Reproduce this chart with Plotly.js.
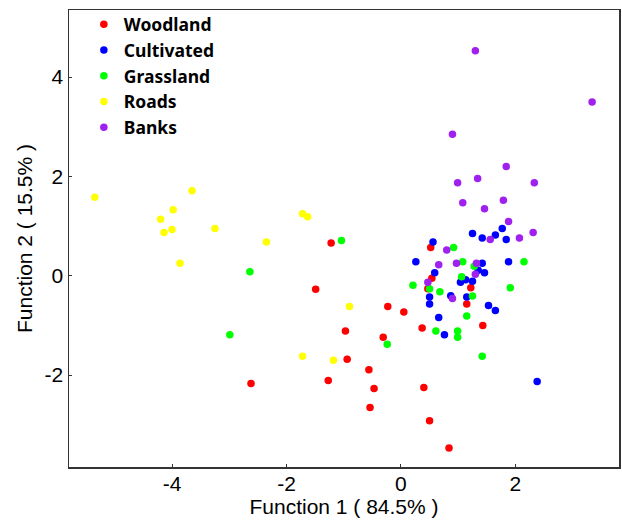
<!DOCTYPE html>
<html>
<head>
<meta charset="utf-8">
<script src="https://cdn.plot.ly/plotly-3.0.1.min.js"></script>
<style>html,body{margin:0;padding:0;background:#fff}#chart{width:622px;height:523px}</style>
</head>
<body>
<div id="chart"></div>
<script>
// Function 1 / Function 2 discriminant scores per land-use group
const woodlandX = [-1.22,-1.49,-0.97,-0.94,-2.62,-1.27,-0.23,0.05,-0.31,-0.56,-0.47,-0.54,0.40,0.50,0.84,0.37,1.43,1.15,1.22,0.52,0.54,0.47];
const woodlandY = [0.66,-0.27,-1.11,-1.68,-2.17,-2.11,-0.62,-0.73,-1.24,-1.89,-2.27,-2.65,-2.25,-2.92,-3.47,-1.05,-1.00,-0.57,-0.24,0.57,-0.05,-0.26];

const cultivatedX = [0.56,1.25,1.42,1.65,1.77,1.84,0.26,1.42,1.88,1.35,1.46,0.59,1.13,1.25,1.04,0.50,0.50,0.87,1.15,1.53,1.65,0.66,0.76,2.38];
const cultivatedY = [0.68,0.85,0.76,0.82,0.95,0.73,0.28,0.25,0.28,0.11,0.06,0.06,-0.08,-0.11,-0.13,-0.43,-0.57,-0.40,-0.43,-0.60,-0.70,-0.84,-1.19,-2.13];

const grasslandX = [-1.04,-2.64,-2.99,-0.24,0.92,1.08,1.28,2.15,1.06,0.50,0.21,0.68,1.91,1.25,1.15,0.61,0.99,0.99,1.42];
const grasslandY = [0.71,0.08,-1.19,-1.38,0.57,0.28,0.19,0.28,-0.02,-0.26,-0.19,-0.32,-0.24,-0.41,-0.81,-1.11,-1.11,-1.24,-1.62];

const roadsX = [-5.35,-3.65,-3.98,-4.20,-4.14,-4.00,-3.25,-3.86,-2.35,-1.72,-1.63,-0.90,-1.72,-1.18];
const roadsY = [1.58,1.71,1.33,1.14,0.87,0.93,0.95,0.25,0.68,1.25,1.19,-0.62,-1.62,-1.70];

const banksX = [1.30,3.34,0.90,1.84,1.34,0.99,2.33,1.08,1.79,1.46,1.88,2.31,1.56,2.07,0.80,0.66,0.97,1.32,1.30,0.47,0.90];
const banksY = [4.53,3.50,2.85,2.20,1.96,1.87,1.87,1.47,1.52,1.35,1.09,0.87,0.73,0.76,0.52,0.22,0.25,0.25,0.03,-0.13,-0.46];

const groupNames = ["Woodland","Cultivated","Grassland","Roads","Banks"];
const groupColors = ["#ff0000","#0000ff","#00ff00","#ffff00","#a020f0"];
const xTickVals = [-4,-2,0,2];
const yTickVals = [-2,0,2,4];

const xs = [woodlandX,cultivatedX,grasslandX,roadsX,banksX];
const ys = [woodlandY,cultivatedY,grasslandY,roadsY,banksY];

const traces = groupNames.map((name,i)=>({
  type:'scatter', mode:'markers', name:name,
  x:xs[i], y:ys[i],
  marker:{color:groupColors[i], size:7.5, line:{width:0}}
}));

const axisFont = {family:'"Liberation Sans", Arial, sans-serif', size:21, color:'#000'};
const layout = {
  width:622, height:523,
  margin:{l:69, r:3, t:10, b:56},
  paper_bgcolor:'#fff', plot_bgcolor:'#fff',
  showlegend:true,
  legend:{
    x:0.027, y:1.008, xanchor:'left', yanchor:'top',
    bgcolor:'rgba(0,0,0,0)', borderwidth:0,
    font:{family:'"Noto Sans", sans-serif', size:17.5, color:'#000', weight:'bold'},
    itemsizing:'trace', tracegroupgap:0
  },
  xaxis:{
    range:[-5.80,3.81], tickvals:xTickVals, ticktext:xTickVals.map(String),
    showgrid:false, zeroline:false, showline:true, mirror:true,
    linecolor:'#333', linewidth:1.5,
    ticks:'inside', ticklen:3, tickcolor:'#333', tickwidth:1,
    tickfont:axisFont, ticklabelstandoff:-3,
    title:{text:'Function 1 ( 84.5% )', font:axisFont, standoff:0}
  },
  yaxis:{
    range:[-3.85,5.35], tickvals:yTickVals, ticktext:yTickVals.map(String),
    showgrid:false, zeroline:false, showline:true, mirror:true,
    linecolor:'#333', linewidth:1.5,
    ticks:'inside', ticklen:3, tickcolor:'#333', tickwidth:1,
    tickfont:axisFont,
    title:{text:'Function 2 ( 15.5% )', font:axisFont, standoff:6}
  }
};

Plotly.newPlot('chart', traces, layout, {displayModeBar:false, staticPlot:true});
</script>
</body>
</html>
